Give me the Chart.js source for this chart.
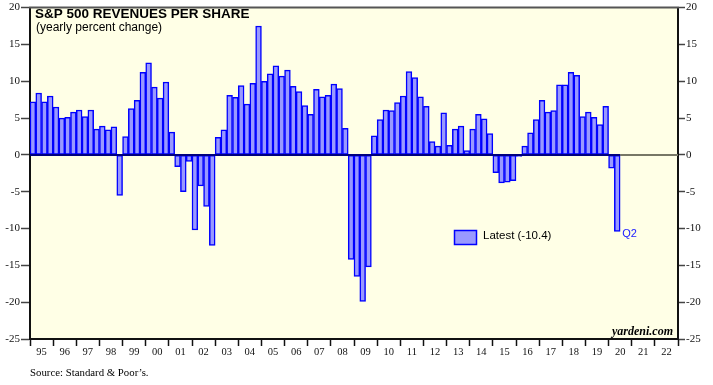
<!DOCTYPE html>
<html>
<head>
<meta charset="utf-8">
<title>S&amp;P 500 Revenues Per Share</title>
<script src="https://cdn.jsdelivr.net/npm/chart.js@4"></script>
<style>
  html, body { margin: 0; padding: 0; background: #fff; }
  #wrap { width: 713px; height: 385px; }
</style>
</head>
<body>
<div id="wrap"><canvas id="chartRevenue" width="713" height="385"></canvas></div>
<script>
'use strict';

////////////////////////////
/// data (yearly % change, quarterly, starting 1995 Q1)
const startYear = 1995;
const endYear = 2023;
const revenueGrowth = [
  7.2, 8.4, 7.2, 8.0, // 95
  6.5, 5.0, 5.1, 5.8, // 96
  6.1, 5.2, 6.1, 3.5, // 97
  3.9, 3.4, 3.8, -5.5, // 98
  2.5, 6.3, 7.4, 11.2, // 99
  12.5, 9.2, 7.7, 9.9, // 00
  3.1, -1.6, -5.0, -0.9, // 01
  -10.2, -4.2, -7.0, -12.3, // 02
  2.4, 3.4, 8.1, 7.8, // 03
  9.4, 6.9, 9.7, 17.5, // 04
  10.0, 11.0, 12.1, 10.7, // 05
  11.5, 9.3, 8.6, 6.7, // 06
  5.5, 8.9, 7.9, 8.1, // 07
  9.6, 9.0, 3.6, -14.2, // 08
  -16.5, -19.9, -15.2, 2.6, // 09
  4.8, 6.1, 6.0, 7.1, // 10
  8.0, 11.3, 10.5, 7.9, // 11
  6.6, 1.8, 1.2, 5.7, // 12
  1.3, 3.5, 3.9, 0.6, // 13
  3.5, 5.5, 4.9, 2.9, // 14
  -2.4, -3.8, -3.7, -3.5, // 15
  -0.2, 1.2, 3.0, 4.8, // 16
  7.4, 5.8, 6.0, 9.5, // 17
  9.5, 11.2, 10.8, 5.2, // 18
  5.8, 5.1, 4.1, 6.6, // 19
  -1.8, -10.4, // 20
];
const yearLabels = [
  '95', '96', '97', '98', '99', '00', '01', '02', '03', '04',
  '05', '06', '07', '08', '09', '10', '11', '12', '13', '14',
  '15', '16', '17', '18', '19', '20', '21', '22',
];
const yMin = -25;
const yMax = 20;
const latestLabel = 'Latest (-10.4)';
const latestQuarter = 'Q2';

/// colours & fonts
const barFill = '#9999ff';
const barLine = '#0000ff';
const plotBg = '#ffffe6';
const serif = '"Liberation Serif", "Times New Roman", serif';
const sans = '"Liberation Sans", Arial, sans-serif';

// bar points sit in the middle of each quarter
const barPoints = revenueGrowth.map((v, i) => ({
  x: startYear + (i + 0.5) / 4,
  y: v,
}));

//////////////////////////////////////////////////////
/// plugins
const plotBackground = {
  id: 'plotBackground',
  beforeDraw(chart) {
    const { ctx, chartArea: a } = chart;
    ctx.save();
    ctx.fillStyle = plotBg;
    ctx.fillRect(a.left, a.top, a.right - a.left, a.bottom - a.top);
    ctx.restore();
  },
};

const zeroLine = {
  id: 'zeroLine',
  afterDatasetsDraw(chart) {
    const { ctx, chartArea: a, scales } = chart;
    const y0 = scales.y.getPixelForValue(0);
    const meta = chart.getDatasetMeta(0);
    const last = meta.data[meta.data.length - 1];
    const endX = last.x + last.width / 2;
    ctx.save();
    ctx.lineWidth = 2;
    ctx.strokeStyle = '#777766';
    ctx.beginPath();
    ctx.moveTo(endX, y0);
    ctx.lineTo(a.right, y0);
    ctx.stroke();
    ctx.strokeStyle = '#000080';
    ctx.beginPath();
    ctx.moveTo(a.left, y0);
    ctx.lineTo(endX, y0);
    ctx.stroke();
    // top frame
    ctx.strokeStyle = '#555555';
    ctx.beginPath();
    ctx.moveTo(a.left - 1, a.top);
    ctx.lineTo(a.right + 1, a.top);
    ctx.stroke();
    ctx.restore();
  },
};

const annotations = {
  id: 'annotations',
  afterDraw(chart) {
    const { ctx, scales } = chart;
    const meta = chart.getDatasetMeta(0);
    const last = meta.data[meta.data.length - 1];
    ctx.save();
    ctx.textBaseline = 'alphabetic';
    ctx.textAlign = 'left';

    // title
    ctx.fillStyle = '#000';
    ctx.font = 'bold 13.5px ' + sans;
    ctx.fillText('S&P 500 REVENUES PER SHARE', 35, 17.5);
    ctx.font = '12px ' + sans;
    ctx.fillText('(yearly percent change)', 36, 30.5);

    // legend
    ctx.fillStyle = barFill;
    ctx.fillRect(454.5, 230.5, 22, 14);
    ctx.strokeStyle = barLine;
    ctx.lineWidth = 1.5;
    ctx.strokeRect(454.5, 230.5, 22, 14);
    ctx.fillStyle = '#000';
    ctx.font = '11.5px ' + sans;
    ctx.fillText(latestLabel, 483, 238.5);

    // latest quarter tag
    ctx.fillStyle = '#2020ff';
    ctx.font = '11px ' + sans;
    ctx.fillText(latestQuarter, last.x + last.width / 2 + 2, scales.y.getPixelForValue(revenueGrowth[revenueGrowth.length - 1]) + 6);

    // credits
    ctx.fillStyle = '#000';
    ctx.font = 'italic bold 12px ' + serif;
    ctx.textAlign = 'right';
    ctx.fillText('yardeni.com', 673, 334.5);
    ctx.textAlign = 'left';
    ctx.font = '10.8px ' + serif;
    ctx.fillText('Source: Standard & Poor\u2019s.', 30, 376);
    ctx.restore();
  },
};

//////////////////////////////////////////////////////
/// chart
const yAxis = function (pos, width) {
  return {
    type: 'linear',
    position: pos,
    min: yMin,
    max: yMax,
    afterFit: (scale) => {
      scale.width = width;
    },
    ticks: {
      stepSize: 5,
      padding: 1,
      color: '#111',
      font: { family: serif, size: 11 },
    },
    grid: {
      drawOnChartArea: false,
      tickLength: pos === 'left' ? 9 : 7,
      tickColor: '#444',
      tickWidth: 1.5,
    },
    border: { display: true, color: '#111', width: 2 },
  };
};

const configBar = {
  type: 'bar',
  data: {
    datasets: [
      {
        label: 'Revenues per share',
        data: barPoints,
        backgroundColor: barFill,
        borderColor: barLine,
        borderWidth: 1.5,
        borderSkipped: false,
        barPercentage: 1,
        categoryPercentage: 1,
      },
    ],
  },
  options: {
    responsive: false,
    animation: false,
    devicePixelRatio: 1,
    layout: { padding: { top: 4, left: 0, right: 0, bottom: 0 } },
    plugins: {
      legend: { display: false },
      tooltip: { enabled: false },
      title: { display: false },
    },
    scales: {
      x: {
        type: 'linear',
        min: startYear,
        max: endYear,
        offset: false,
        afterFit: (scale) => {
          scale.height = 46;
        },
        ticks: {
          stepSize: 0.5,
          autoSkip: false,
          maxRotation: 0,
          padding: 0,
          color: '#111',
          font: { family: serif, size: 10.5 },
          callback: (v) =>
            v % 1 === 0.5 ? yearLabels[Math.floor(v) - startYear] || '' : '',
        },
        grid: {
          offset: false,
          drawOnChartArea: false,
          tickLength: 7,
          tickWidth: 1.5,
          tickColor: (c) =>
            c.tick && Number.isInteger(c.tick.value) ? '#111' : 'rgba(0,0,0,0)',
        },
        border: { display: true, color: '#111', width: 2 },
      },
      y: yAxis('left', 30),
      y2: yAxis('right', 35),
    },
  },
  plugins: [plotBackground, zeroLine, annotations],
};

let chartRevenue = new Chart(
  document.getElementById('chartRevenue'),
  configBar
);
</script>
</body>
</html>
